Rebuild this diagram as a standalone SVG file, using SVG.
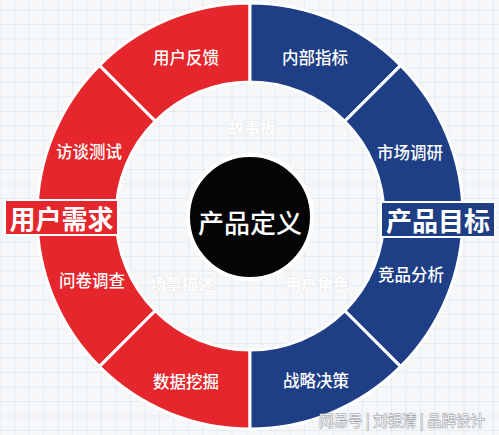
<svg xmlns="http://www.w3.org/2000/svg" width="499" height="435" viewBox="0 0 499 435">
<defs>
<pattern id="grid" x="0.5" y="-4" width="14.5" height="14.5" patternUnits="userSpaceOnUse">
<rect width="14.5" height="14.5" fill="#f5f7f9"/>
<path d="M14.5 0V14.5M0 14.5H14.5" stroke="#d9e2ea" stroke-width="1" fill="none"/>
</pattern>
<style>
.red{fill:#e5262c;stroke:#fff;stroke-width:3;stroke-linejoin:miter}
.blue{fill:#1e3e85;stroke:#fff;stroke-width:3;stroke-linejoin:miter}
.seg{font-family:"Noto Sans CJK SC","Noto Sans",sans-serif;font-size:16.5px;font-weight:500;fill:#fff;text-anchor:middle;dominant-baseline:central}
.big{font-family:"Noto Sans CJK SC","Noto Sans",sans-serif;font-size:26px;font-weight:700;fill:#fff;text-anchor:middle;dominant-baseline:central}
.ghost{font-family:"Noto Sans CJK SC","Noto Sans",sans-serif;font-size:16px;font-weight:700;fill:#fff;stroke:#d5dbe1;stroke-width:0.6;paint-order:stroke;text-anchor:middle;dominant-baseline:central}
.wm{font-family:"Noto Sans CJK SC","Noto Sans",sans-serif;font-size:14.5px;fill:#f4f4f4;stroke:#8e949a;stroke-width:0.9;paint-order:stroke;text-anchor:middle;dominant-baseline:central}
</style>
</defs>
<rect width="499" height="435" fill="url(#grid)"/>

<g id="seg-yonghufankui">
<path class="red" d="M99.39 65.39A213 213 0 0 1 250 3L250 82A134 134 0 0 0 155.25 121.25Z"/>
<text class="seg" x="186" y="57">用户反馈</text>
</g>
<g id="seg-fangtanceshi">
<path class="red" d="M37 216A213 213 0 0 1 99.39 65.39L155.25 121.25A134 134 0 0 0 116 216Z"/>
<text class="seg" x="89" y="151">访谈测试</text>
</g>
<g id="seg-wenjuandiaocha">
<path class="red" d="M99.39 366.61A213 213 0 0 1 37 216L116 216A134 134 0 0 0 155.25 310.75Z"/>
<text class="seg" x="92" y="280">问卷调查</text>
</g>
<g id="seg-shujuwajue">
<path class="red" d="M250 429A213 213 0 0 1 99.39 366.61L155.25 310.75A134 134 0 0 0 250 350Z"/>
<text class="seg" x="186" y="381">数据挖掘</text>
</g>

<g id="seg-neibuzhibiao">
<path class="blue" d="M250 3A213 213 0 0 1 400.61 65.39L344.75 121.25A134 134 0 0 0 250 82Z"/>
<text class="seg" x="315" y="57">内部指标</text>
</g>
<g id="seg-shichangdiaoyan">
<path class="blue" d="M400.61 65.39A213 213 0 0 1 463 216L384 216A134 134 0 0 0 344.75 121.25Z"/>
<text class="seg" x="410" y="152">市场调研</text>
</g>
<g id="seg-jingpinfenxi">
<path class="blue" d="M463 216A213 213 0 0 1 400.61 366.61L344.75 310.75A134 134 0 0 0 384 216Z"/>
<text class="seg" x="411" y="274">竞品分析</text>
</g>
<g id="seg-zhanluejuece">
<path class="blue" d="M400.61 366.61A213 213 0 0 1 250 429L250 350A134 134 0 0 0 344.75 310.75Z"/>
<text class="seg" x="316" y="380">战略决策</text>
</g>

<g id="label-yonghuxuqiu">
<rect x="5" y="200" width="113" height="35" fill="#e5262c" stroke="#fff" stroke-width="2"/>
<text class="big" x="61.5" y="217.5">用户需求</text>
</g>
<g id="label-chanpinmubiao">
<rect x="381" y="202" width="114" height="35" fill="#1e3e85" stroke="#fff" stroke-width="2"/>
<text class="big" x="438" y="219.5">产品目标</text>
</g>

<g id="center">
<circle cx="250" cy="217" r="62" fill="#050505" stroke="#fff" stroke-width="4"/>
<text class="big" x="250" y="221" style="font-size:26px;font-weight:500">产品定义</text>
</g>

<g id="ghost-texts">
<text class="ghost" x="252" y="127">故事板</text>
<text class="ghost" x="182" y="283">场景描述</text>
<text class="ghost" x="317" y="283">用户角色</text>
</g>

<text class="wm" x="402" y="419">网易号 | 刘银清 | 品牌设计</text>
</svg>
